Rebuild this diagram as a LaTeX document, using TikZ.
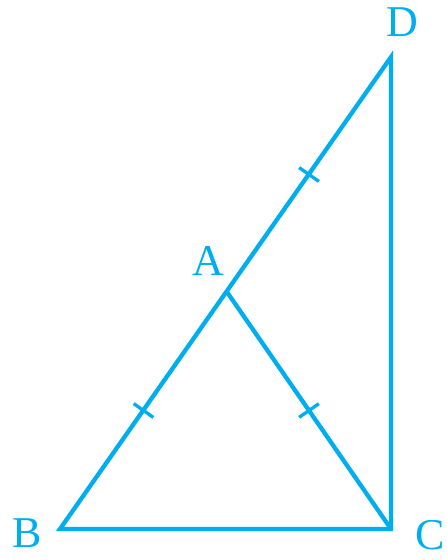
\documentclass[tikz,border=0pt]{standalone}
\usepackage{fontspec}
\setmainfont{Liberation Serif}
\usetikzlibrary{calc}
\definecolor{geo}{RGB}{0,174,239}
\begin{document}
\begin{tikzpicture}[x=1pt,y=-1pt,
  side/.style={draw=geo,line width=4.3pt,line cap=butt,line join=miter},
  tick/.style={draw=geo,line width=3.3pt},
  lbl/.style={text=geo,font=\fontsize{44}{44}\selectfont,inner sep=0pt}]
\useasboundingbox (0,0) rectangle (447,560);
\coordinate (B) at (60,529);
\coordinate (C) at (391,529);
\coordinate (D) at (391,57);
\coordinate (A) at (227,292);
\draw[side] (B) -- (C) -- (D) -- cycle;
\draw[side] (A) -- (C);
% tick marks
\foreach \p/\q in {B/A, A/C, A/D}{
  \draw[tick] ($(\p)!0.5!(\q)!12pt!90:(\q)$) -- ($(\p)!0.5!(\q)!12pt!-90:(\q)$);
}
\node[lbl] (lD) at (402,22) {D};
\node[lbl] (lA) at (208,261) {A};
\node[lbl] (lB) at (27,533) {B};
\node[lbl] (lC) at (430,535) {C};
\end{tikzpicture}
\end{document}
